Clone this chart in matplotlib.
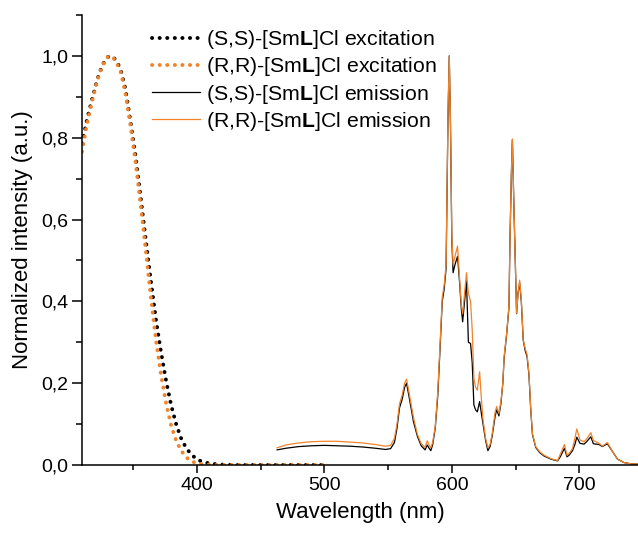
import matplotlib
matplotlib.use("Agg")
import matplotlib.pyplot as plt
from matplotlib.ticker import MultipleLocator, FuncFormatter

plt.rcParams["font.family"] = ["Liberation Sans", "DejaVu Sans"]
plt.rcParams["mathtext.fontset"] = "custom"
plt.rcParams["mathtext.rm"] = "Liberation Sans"
plt.rcParams["mathtext.bf"] = "Liberation Sans:bold"

# excitation spectra (nm, normalized)
exc_x = [310, 314, 318, 322, 326, 330, 333, 336, 340, 344, 348, 352, 356, 360,
         364, 368, 372, 376, 380, 384, 388, 392, 396, 400, 405, 410, 415, 420,
         430, 440, 450, 460, 470, 480, 490, 500]
exc_ss = [0.786, 0.845, 0.895, 0.942, 0.978, 0.997, 1.0, 0.992, 0.97, 0.92, 0.84,
          0.755, 0.655, 0.55, 0.45, 0.355, 0.275, 0.205, 0.145, 0.098, 0.063, 0.04,
          0.025, 0.014, 0.007, 0.004, 0.002, 0.001, 0.0, 0.0, 0.0, 0.0, 0.0, 0.0,
          0.0, 0.0]
exc_rr = [0.766, 0.835, 0.89, 0.94, 0.977, 0.997, 1.0, 0.99, 0.965, 0.91, 0.83,
          0.74, 0.635, 0.525, 0.41, 0.305, 0.22, 0.15, 0.095, 0.058, 0.034, 0.018,
          0.009, 0.004, 0.002, 0.001, 0.0, 0.0, 0.0, 0.0, 0.0, 0.0, 0.0, 0.0,
          0.0, 0.0]

# emission spectra
em_x = [463, 470, 480, 490, 500, 510, 520, 530, 540, 548, 552, 555, 557, 559, 561,
        563, 564.5, 566, 568, 570, 573, 576, 579, 580.7, 582, 583.5, 585, 587, 589,
        591, 592.5, 594, 595.5, 597, 598, 599, 600, 601, 602.5, 604.5, 606, 607.5,
        608.5, 610, 611.5, 613, 614.7, 616, 617.3, 618.6, 620, 621.8, 623, 624.5,
        626.5, 628.3, 630, 631.7, 634, 635.2, 636.9, 638.5, 640, 641, 643, 644.8,
        645.6, 646.7, 647.5, 648.7, 650, 650.8, 651.9, 653.2, 654.5, 656, 657.5,
        659, 660.5, 661.8, 663.2, 665.8, 669, 672.3, 678, 683, 685.4, 688.3, 690.3,
        692, 694.6, 696.5, 698, 700.5, 703.7, 706, 709, 711, 715.5, 718, 722, 726,
        730, 735, 740, 746]
em_ss = [0.037, 0.041, 0.045, 0.047, 0.048, 0.047, 0.046, 0.044, 0.041, 0.038,
         0.040, 0.055, 0.09, 0.14, 0.16, 0.19, 0.20, 0.175, 0.14, 0.105, 0.07,
         0.047, 0.037, 0.049, 0.042, 0.035, 0.05, 0.09, 0.17, 0.30, 0.40, 0.43,
         0.48, 0.85, 1.0, 0.82, 0.55, 0.47, 0.49, 0.51, 0.45, 0.38, 0.35, 0.40,
         0.45, 0.30, 0.297, 0.25, 0.147, 0.135, 0.13, 0.155, 0.13, 0.10, 0.06,
         0.035, 0.045, 0.072, 0.12, 0.135, 0.12, 0.15, 0.2, 0.26, 0.32, 0.385,
         0.55, 0.71, 0.795, 0.63, 0.47, 0.37, 0.42, 0.445, 0.40, 0.305, 0.28,
         0.265, 0.22, 0.14, 0.075, 0.043, 0.03, 0.022, 0.014, 0.01, 0.022, 0.041,
         0.02, 0.024, 0.035, 0.05, 0.068, 0.053, 0.051, 0.058, 0.069, 0.052,
         0.050, 0.045, 0.052, 0.033, 0.014, 0.006, 0.003, 0.002]
em_rr = [0.042, 0.049, 0.054, 0.057, 0.058, 0.058, 0.056, 0.054, 0.050, 0.046,
         0.048, 0.065, 0.10, 0.15, 0.17, 0.20, 0.21, 0.185, 0.15, 0.115, 0.075,
         0.052, 0.043, 0.059, 0.05, 0.042, 0.055, 0.095, 0.18, 0.31, 0.41, 0.44,
         0.49, 0.86, 1.0, 0.83, 0.56, 0.49, 0.51, 0.535, 0.46, 0.39, 0.37, 0.42,
         0.47, 0.42, 0.40, 0.33, 0.212, 0.19, 0.183, 0.228, 0.17, 0.11, 0.065,
         0.042, 0.05, 0.077, 0.13, 0.143, 0.126, 0.155, 0.2, 0.265, 0.322, 0.39,
         0.55, 0.713, 0.797, 0.632, 0.469, 0.371, 0.42, 0.452, 0.403, 0.306,
         0.285, 0.27, 0.224, 0.143, 0.077, 0.045, 0.032, 0.024, 0.015, 0.011,
         0.029, 0.05, 0.024, 0.028, 0.04, 0.065, 0.088, 0.061, 0.057, 0.065,
         0.079, 0.06, 0.053, 0.046, 0.055, 0.033, 0.014, 0.006, 0.003, 0.002]

labels = [
    r"(S,S)-[Sm$\mathbf{L}$]Cl excitation",
    r"(R,R)-[Sm$\mathbf{L}$]Cl excitation",
    r"(S,S)-[Sm$\mathbf{L}$]Cl emission",
    r"(R,R)-[Sm$\mathbf{L}$]Cl emission",
]

black = "#000000"
orange = "#F0842C"

fig = plt.figure(figsize=(6.38, 5.36), dpi=100)
ax = fig.add_axes([82 / 638, 71 / 536, 1 - 82 / 638, (465 - 15) / 536])

# dotted excitation curves: round dots ~ one linewidth apart
dots = (0, (0.05, 1.9))
ax.plot(exc_x, exc_ss, color=black, lw=2.8, linestyle=dots,
        dash_capstyle="round", label=labels[0])
ax.plot(exc_x, exc_rr, color=orange, lw=2.8, linestyle=dots,
        dash_capstyle="round", label=labels[1])
ax.plot(em_x, em_ss, color=black, lw=0.9, label=labels[2])
ax.plot(em_x, em_rr, color=orange, lw=0.9, label=labels[3])

ax.set_xlim(310, 746)
ax.set_ylim(0, 1.1)
ax.xaxis.set_major_locator(MultipleLocator(100))
ax.xaxis.set_minor_locator(MultipleLocator(50))
ax.yaxis.set_major_locator(MultipleLocator(0.2))
ax.yaxis.set_minor_locator(MultipleLocator(0.1))
ax.yaxis.set_major_formatter(FuncFormatter(lambda v, p: f"{v:.1f}".replace(".", ",")))

for s in ["top", "right"]:
    ax.spines[s].set_visible(False)
for s in ["left", "bottom"]:
    ax.spines[s].set_linewidth(1.1)

ax.tick_params(axis="both", which="major", direction="out", width=1.1,
               labelsize=14, pad=3)
ax.tick_params(axis="y", which="major", length=7)
ax.tick_params(axis="y", which="minor", length=4.3, width=1.1)
ax.tick_params(axis="x", which="major", length=5.4)
ax.tick_params(axis="x", which="minor", length=3.6, width=1.1)

ax.set_xlabel("Wavelength (nm)", fontsize=16, labelpad=6)
ax.set_ylabel("Normalized intensity (a.u.)", fontsize=16, labelpad=6)

ax.legend(loc="upper left", bbox_to_anchor=(152 / 638, 1 - 28 / 536),
          bbox_transform=fig.transFigure, frameon=False, fontsize=15.3,
          handlelength=2.25, handletextpad=0.3, labelspacing=0.2,
          borderpad=0, borderaxespad=0)

fig.savefig("out.png", dpi=100)
